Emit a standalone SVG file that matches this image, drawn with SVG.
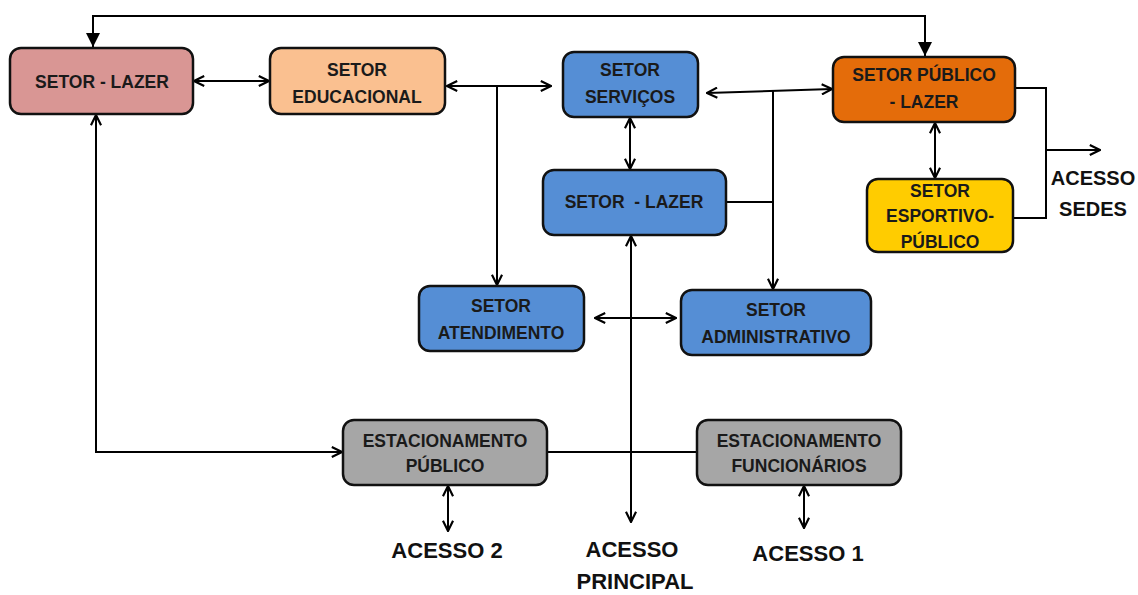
<svg xmlns="http://www.w3.org/2000/svg" width="1138" height="595" viewBox="0 0 1138 595">
<style>
.box{stroke:#111;stroke-width:2.5}
.t{font-family:"Liberation Sans",Arial,sans-serif;font-weight:bold;font-size:17.5px;fill:#1a1a1a;text-anchor:middle;white-space:pre}
.big{font-family:"Liberation Sans",Arial,sans-serif;font-weight:bold;font-size:22px;fill:#111;text-anchor:middle}
.sedes{font-size:20px}
.c{fill:none;stroke:#000;stroke-width:2}
</style>
<defs>
<marker id="op" viewBox="0 0 10 10" refX="9.5" refY="5" markerWidth="12" markerHeight="12" markerUnits="userSpaceOnUse" orient="auto-start-reverse">
<path d="M1,0.8 L9.5,5 L1,9.2" fill="none" stroke="#000" stroke-width="1.8"/>
</marker>
<marker id="fl" viewBox="0 0 10 10" refX="10" refY="5" markerWidth="14" markerHeight="14" markerUnits="userSpaceOnUse" orient="auto-start-reverse">
<path d="M0,0 L10,5 L0,10 z" fill="#000"/>
</marker>
</defs>
<rect width="1138" height="595" fill="#fff"/>
<g id="connectors">
<path class="c" d="M93,47 V16 H925 V56" marker-start="url(#fl)" marker-end="url(#fl)"/>
<path class="c" d="M194,81 H269" marker-start="url(#op)" marker-end="url(#op)"/>
<path class="c" d="M447,86 H551" marker-start="url(#op)" marker-end="url(#op)"/>
<path class="c" d="M497,86 V285" marker-end="url(#op)"/>
<path class="c" d="M707,93 L832,89" marker-start="url(#op)" marker-end="url(#op)"/>
<path class="c" d="M773,91 V289" marker-end="url(#op)"/>
<path class="c" d="M726,202 H773"/>
<path class="c" d="M630,118 V169" marker-start="url(#op)" marker-end="url(#op)"/>
<path class="c" d="M631,236 V522" marker-start="url(#op)" marker-end="url(#op)"/>
<path class="c" d="M595,318 H676" marker-start="url(#op)" marker-end="url(#op)"/>
<path class="c" d="M935,123 V178" marker-start="url(#op)" marker-end="url(#op)"/>
<path class="c" d="M1015,88 H1046 V218 H1013"/>
<path class="c" d="M1046,150 H1100" marker-end="url(#op)"/>
<path class="c" d="M96,115 V452 H342" marker-start="url(#op)" marker-end="url(#op)"/>
<path class="c" d="M547,452 H697"/>
<path class="c" d="M448,486 V531" marker-start="url(#op)" marker-end="url(#op)"/>
<path class="c" d="M804,486 V528" marker-start="url(#op)" marker-end="url(#op)"/>
</g>
<g id="setor-lazer-1">
<rect class="box" x="10" y="48" width="183" height="66" rx="11" fill="#D99694"/>
<text class="t" x="102" y="88">SETOR - LAZER</text>
</g>
<g id="setor-educacional">
<rect class="box" x="270" y="48" width="175" height="66" rx="11" fill="#FAC090"/>
<text class="t" x="357" y="76">SETOR</text>
<text class="t" x="357" y="103">EDUCACIONAL</text>
</g>
<g id="setor-servicos">
<rect class="box" x="563" y="52" width="135" height="65" rx="11" fill="#558ED5"/>
<text class="t" x="630" y="76">SETOR</text>
<text class="t" x="630" y="103">SERVIÇOS</text>
</g>
<g id="setor-publico-lazer">
<rect class="box" x="833" y="57" width="182" height="65" rx="11" fill="#E46C0A"/>
<text class="t" x="924" y="81">SETOR PÚBLICO</text>
<text class="t" x="924" y="108">- LAZER</text>
</g>
<g id="setor-lazer-2">
<rect class="box" x="543" y="170" width="183" height="65" rx="11" fill="#558ED5"/>
<text class="t" x="634" y="208">SETOR  - LAZER</text>
</g>
<g id="setor-esportivo">
<rect class="box" x="867" y="179" width="146" height="73" rx="11" fill="#FFCC00"/>
<text class="t" x="940" y="197">SETOR</text>
<text class="t" x="940" y="222">ESPORTIVO-</text>
<text class="t" x="940" y="248">PÚBLICO</text>
</g>
<g id="setor-atendimento">
<rect class="box" x="419" y="286" width="165" height="65" rx="11" fill="#558ED5"/>
<text class="t" x="501" y="312">SETOR</text>
<text class="t" x="501" y="339">ATENDIMENTO</text>
</g>
<g id="setor-administrativo">
<rect class="box" x="681" y="290" width="190" height="65" rx="11" fill="#558ED5"/>
<text class="t" x="776" y="316">SETOR</text>
<text class="t" x="776" y="343">ADMINISTRATIVO</text>
</g>
<g id="estacionamento-publico">
<rect class="box" x="343" y="420" width="204" height="65" rx="11" fill="#A6A6A6"/>
<text class="t" x="445" y="447">ESTACIONAMENTO</text>
<text class="t" x="445" y="472">PÚBLICO</text>
</g>
<g id="estacionamento-funcionarios">
<rect class="box" x="697" y="420" width="204" height="65" rx="11" fill="#A6A6A6"/>
<text class="t" x="799" y="447">ESTACIONAMENTO</text>
<text class="t" x="799" y="472">FUNCIONÁRIOS</text>
</g>
<g id="acesso-2"><text class="big" x="447" y="558">ACESSO 2</text></g>
<g id="acesso-principal">
<text class="big" x="632" y="557">ACESSO</text>
<text class="big" x="635" y="589">PRINCIPAL</text>
</g>
<g id="acesso-1"><text class="big" x="808" y="561">ACESSO 1</text></g>
<g id="acesso-sedes">
<text class="big sedes" x="1093" y="185">ACESSO</text>
<text class="big sedes" x="1093" y="216">SEDES</text>
</g>
</svg>
